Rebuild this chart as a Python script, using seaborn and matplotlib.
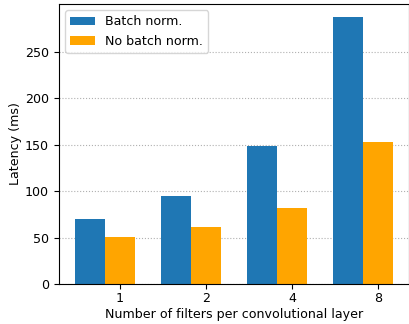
import matplotlib
matplotlib.use("Agg")
import matplotlib.pyplot as plt
import seaborn as sns
import pandas as pd

filters = ["1", "2", "4", "8"]
batch_norm = [70, 95, 148.5, 287]
no_batch_norm = [51, 61, 82, 153]
series_names = ["Batch norm.", "No batch norm."]
colors = ["#1f77b4", "orange"]
y_ticks = [0, 50, 100, 150, 200, 250]

plt.rcParams["font.size"] = 9.1

df = pd.DataFrame({
    "filters": filters * 2,
    "latency": batch_norm + no_batch_norm,
    "variant": [series_names[0]] * len(filters) + [series_names[1]] * len(filters),
})

fig, ax = plt.subplots(figsize=(4.09, 3.24), dpi=100)
fig.subplots_adjust(left=0.1435, right=1.0, top=0.9877, bottom=0.1235)

sns.barplot(data=df, x="filters", y="latency", hue="variant", order=filters,
            hue_order=series_names, palette=colors, saturation=1,
            errorbar=None, width=0.7, ax=ax)

bar_w = 0.35
ax.set_xticks([i + bar_w / 2 for i in range(len(filters))])
ax.set_xticklabels(filters)
ax.set_xlim(-0.535, len(filters) - 1 + 0.535)
ax.set_ylim(0, max(batch_norm) * 1.05)
ax.set_yticks(y_ticks)
ax.tick_params(axis="x", pad=2.5)

ax.set_axisbelow(True)
ax.grid(axis="y", linestyle=":", color="#b0b0b0", linewidth=0.8)
ax.set_xlabel("Number of filters per convolutional layer", labelpad=2)
ax.set_ylabel("Latency (ms)", labelpad=2)

handles, labels = ax.get_legend_handles_labels()
ax.legend(handles, labels, loc="upper left")

fig.savefig("out.png", dpi=100)
